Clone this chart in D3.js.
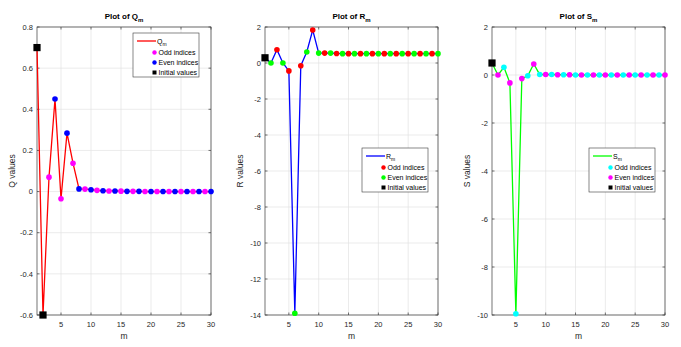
<!DOCTYPE html>
<html>
<head>
<meta charset="utf-8">
<script src="https://cdn.jsdelivr.net/npm/d3@7"></script>
<style>
  body { margin: 0; background: #fff; }
  svg { display: block; font-family: "Liberation Sans", Arial, sans-serif; }
</style>
</head>
<body>
<svg width="681" height="347"></svg>
<script>
// index m = 1..30
var mIndex = d3.range(1, 31);

var qValues = [0.70, -0.60, 0.07, 0.45, -0.035, 0.284, 0.138, 0.013, 0.012, 0.009,
               0.006, 0.004, 0.003, 0.003, 0.002, 0.001, 0.001, 0.001, 0, 0,
               0, 0, 0, 0, 0, 0, 0, 0, 0, 0];
var rValues = [0.29, 0.0, 0.74, 0.0, -0.44, -13.9, -0.15, 0.61, 1.83, 0.55,
               0.55, 0.55, 0.53, 0.52, 0.52, 0.52, 0.52, 0.52, 0.52, 0.52,
               0.52, 0.52, 0.52, 0.52, 0.52, 0.52, 0.52, 0.52, 0.52, 0.52];
var sValues = [0.5, 0.0, 0.32, -0.33, -9.95, -0.15, -0.03, 0.46, 0.02, 0.02,
               0.02, 0.01, 0.01, 0.01, 0, 0, 0, 0, 0, 0,
               0, 0, 0, 0, 0, 0, 0, 0, 0, 0];

var qInitial = [1, 2],
    rInitial = [1],
    sInitial = [1];

var xTicks = [5, 10, 15, 20, 25, 30];
var qTicks = [0.8, 0.6, 0.4, 0.2, 0, -0.2, -0.4, -0.6];
var rTicks = [2, 0, -2, -4, -6, -8, -10, -12, -14];
var sTicks = [2, 0, -2, -4, -6, -8, -10];

var legendLabels = ["Odd indices", "Even indices", "Initial values"];

var svg = d3.select("svg");

var panels = [
  {name: "Q", values: qValues, initial: qInitial, ticks: qTicks, domain: [-0.6, 0.8],
   left: 37, right: 211, line: "#ff0000", odd: "#ff00ff", even: "#0000ff",
   legend: {x: 133, y: 33}},
  {name: "R", values: rValues, initial: rInitial, ticks: rTicks, domain: [-14, 2],
   left: 265, right: 438, line: "#0000ff", odd: "#ff0000", even: "#00ff00",
   legend: {x: 362, y: 148}},
  {name: "S", values: sValues, initial: sInitial, ticks: sTicks, domain: [-10, 2],
   left: 492, right: 665, line: "#00ff00", odd: "#00ffff", even: "#ff00ff",
   legend: {x: 589, y: 148}}
];

var plotTop = 27, plotBottom = 315;

panels.forEach(function(p) {
  var x = d3.scaleLinear().domain([1, 30]).range([p.left, p.right]),
      y = d3.scaleLinear().domain(p.domain).range([plotBottom, plotTop]);

  var g = svg.append("g");

  // grid
  g.selectAll(".gx").data(xTicks).enter().append("line")
      .attr("x1", function(d) { return x(d); }).attr("x2", function(d) { return x(d); })
      .attr("y1", plotTop).attr("y2", plotBottom)
      .attr("stroke", "#e3e3e3").attr("stroke-width", 0.7);
  g.selectAll(".gy").data(p.ticks).enter().append("line")
      .attr("x1", p.left).attr("x2", p.right)
      .attr("y1", function(d) { return y(d); }).attr("y2", function(d) { return y(d); })
      .attr("stroke", "#e3e3e3").attr("stroke-width", 0.7);

  // box + ticks (inside, all four sides)
  g.append("rect")
      .attr("x", p.left).attr("y", plotTop)
      .attr("width", p.right - p.left).attr("height", plotBottom - plotTop)
      .attr("fill", "none").attr("stroke", "#3a3a3a").attr("stroke-width", 0.7);
  xTicks.forEach(function(d) {
    g.append("line").attr("x1", x(d)).attr("x2", x(d)).attr("y1", plotBottom).attr("y2", plotBottom - 2.5)
        .attr("stroke", "#3a3a3a").attr("stroke-width", 0.7);
    g.append("line").attr("x1", x(d)).attr("x2", x(d)).attr("y1", plotTop).attr("y2", plotTop + 2.5)
        .attr("stroke", "#3a3a3a").attr("stroke-width", 0.7);
  });
  p.ticks.forEach(function(d) {
    g.append("line").attr("x1", p.left).attr("x2", p.left + 2.5).attr("y1", y(d)).attr("y2", y(d))
        .attr("stroke", "#3a3a3a").attr("stroke-width", 0.7);
    g.append("line").attr("x1", p.right).attr("x2", p.right - 2.5).attr("y1", y(d)).attr("y2", y(d))
        .attr("stroke", "#3a3a3a").attr("stroke-width", 0.7);
  });

  // tick labels
  g.selectAll(".tx").data(xTicks).enter().append("text")
      .attr("x", function(d) { return x(d); }).attr("y", plotBottom + 12)
      .attr("text-anchor", "middle").attr("font-size", 7.5).attr("fill", "#262626")
      .text(function(d) { return d; });
  g.selectAll(".ty").data(p.ticks).enter().append("text")
      .attr("x", p.left - 4).attr("y", function(d) { return y(d) + 2.7; })
      .attr("text-anchor", "end").attr("font-size", 7.5).attr("fill", "#262626")
      .text(function(d) { return String(d); });

  // axis labels
  g.append("text")
      .attr("x", (p.left + p.right) / 2).attr("y", 339)
      .attr("text-anchor", "middle").attr("font-size", 8.5).attr("fill", "#262626")
      .text("m");
  g.append("text")
      .attr("transform", "translate(" + (p.left - 22) + "," + ((plotTop + plotBottom) / 2) + ") rotate(-90)")
      .attr("text-anchor", "middle").attr("font-size", 8.5).attr("fill", "#262626")
      .text(p.name + " values");

  // title
  var t = g.append("text")
      .attr("x", (p.left + p.right) / 2).attr("y", 19)
      .attr("text-anchor", "middle").attr("font-size", 8).attr("font-weight", "bold")
      .attr("fill", "#000");
  t.append("tspan").text("Plot of " + p.name);
  t.append("tspan").attr("font-size", 6).attr("dy", 3).text("m");

  // series line
  var pts = mIndex.map(function(m, i) { return [m, p.values[i]]; });
  g.append("path")
      .datum(pts)
      .attr("fill", "none").attr("stroke", p.line).attr("stroke-width", 1.3)
      .attr("d", d3.line().x(function(d) { return x(d[0]); }).y(function(d) { return y(d[1]); }));

  var rest = pts.filter(function(d) { return p.initial.indexOf(d[0]) < 0; });
  g.selectAll(".odd").data(rest.filter(function(d) { return d[0] % 2 === 1; })).enter()
      .append("circle")
      .attr("cx", function(d) { return x(d[0]); }).attr("cy", function(d) { return y(d[1]); })
      .attr("r", 2.8).attr("fill", p.odd);
  g.selectAll(".even").data(rest.filter(function(d) { return d[0] % 2 === 0; })).enter()
      .append("circle")
      .attr("cx", function(d) { return x(d[0]); }).attr("cy", function(d) { return y(d[1]); })
      .attr("r", 2.8).attr("fill", p.even);
  g.selectAll(".init").data(pts.filter(function(d) { return p.initial.indexOf(d[0]) >= 0; })).enter()
      .append("rect")
      .attr("x", function(d) { return x(d[0]) - 3.6; }).attr("y", function(d) { return y(d[1]) - 3.6; })
      .attr("width", 7.2).attr("height", 7.2).attr("fill", "#000");

  // legend
  var lg = g.append("g").attr("transform", "translate(" + p.legend.x + "," + p.legend.y + ")");
  lg.append("rect").attr("width", 66).attr("height", 44)
      .attr("fill", "#fff").attr("stroke", "#3a3a3a").attr("stroke-width", 0.6);
  lg.append("line").attr("x1", 4).attr("x2", 23).attr("y1", 8).attr("y2", 8)
      .attr("stroke", p.line).attr("stroke-width", 1.3);
  var lt = lg.append("text").attr("x", 24).attr("y", 10.5).attr("font-size", 7).attr("fill", "#000");
  lt.append("tspan").text(p.name);
  lt.append("tspan").attr("font-size", 5).attr("dy", 2.5).text("m");
  var rowY = [19.5, 29.5, 39.5];
  lg.append("circle").attr("cx", 21.5).attr("cy", rowY[0]).attr("r", 2.2).attr("fill", p.odd);
  lg.append("circle").attr("cx", 21.5).attr("cy", rowY[1]).attr("r", 2.2).attr("fill", p.even);
  lg.append("rect").attr("x", 19.5).attr("y", rowY[2] - 2).attr("width", 4).attr("height", 4).attr("fill", "#000");
  legendLabels.forEach(function(s, i) {
    lg.append("text").attr("x", 25.5).attr("y", rowY[i] + 2.5)
        .attr("font-size", 7).attr("fill", "#000").text(s);
  });
});
</script>
</body>
</html>
